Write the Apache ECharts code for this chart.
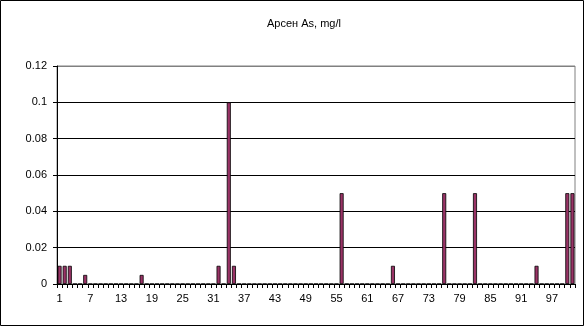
<!DOCTYPE html>
<html>
<head>
<meta charset="utf-8">
<script src="https://cdn.jsdelivr.net/npm/echarts@6/dist/echarts.min.js"></script>
<style>
  html, body { margin: 0; padding: 0; background: #fff; }
  #chart { width: 584px; height: 326px; }
</style>
</head>
<body>
<div id="chart"></div>
<script>
// sample numbers 1..101
const categories = [
  1, 2, 3, 4, 5, 6, 7, 8, 9, 10, 11, 12, 13, 14, 15, 16, 17, 18, 19, 20,
  21, 22, 23, 24, 25, 26, 27, 28, 29, 30, 31, 32, 33, 34, 35, 36, 37, 38, 39, 40,
  41, 42, 43, 44, 45, 46, 47, 48, 49, 50, 51, 52, 53, 54, 55, 56, 57, 58, 59, 60,
  61, 62, 63, 64, 65, 66, 67, 68, 69, 70, 71, 72, 73, 74, 75, 76, 77, 78, 79, 80,
  81, 82, 83, 84, 85, 86, 87, 88, 89, 90, 91, 92, 93, 94, 95, 96, 97, 98, 99, 100,
  101
]

// arsenic, mg/l
const arsenic = [
  0.01, 0.01, 0.01, 0, 0, 0.005, 0, 0, 0, 0, 0, 0, 0, 0, 0, 0, 0.005, 0, 0, 0,
  0, 0, 0, 0, 0, 0, 0, 0, 0, 0, 0, 0.01, 0, 0.1, 0.01, 0, 0, 0, 0, 0,
  0, 0, 0, 0, 0, 0, 0, 0, 0, 0, 0, 0, 0, 0, 0, 0.05, 0, 0, 0, 0,
  0, 0, 0, 0, 0, 0.01, 0, 0, 0, 0, 0, 0, 0, 0, 0, 0.05, 0, 0, 0, 0,
  0, 0.05, 0, 0, 0, 0, 0, 0, 0, 0, 0, 0, 0, 0.01, 0, 0, 0, 0, 0, 0.05,
  0.05
]

const chart = echarts.init(document.getElementById('chart'))

const option = {
  animation: false,
  textStyle: { fontFamily: 'Liberation Sans, Arial, sans-serif' },
  title: {
    text: 'Арсен As, mg/l',
    left: 262,
    top: 13,
    textStyle: { fontSize: 11, fontWeight: 'normal', color: '#000' }
  },
  graphic: [{
    type: 'rect',
    shape: { x: 0.5, y: 0.5, width: 583, height: 325 },
    style: { fill: 'none', stroke: '#000', lineWidth: 1 },
    silent: true
  }],
  grid: {
    left: 57,
    right: 9,
    top: 66,
    bottom: 42,
    show: true,
    borderColor: '#808080',
    borderWidth: 1
  },
  xAxis: {
    type: 'category',
    data: categories,
    boundaryGap: true,
    axisLine: { lineStyle: { color: '#000', width: 1 } },
    axisTick: { show: true, interval: 0, length: 4, lineStyle: { color: '#000' } },
    axisLabel: { interval: 5, margin: 9, fontSize: 11, color: '#000' }
  },
  yAxis: {
    type: 'value',
    min: 0,
    max: 0.12,
    interval: 0.02,
    axisLine: { show: true, lineStyle: { color: '#000' } },
    axisTick: { show: true, length: 4, lineStyle: { color: '#000' } },
    axisLabel: {
      margin: 10,
      fontSize: 11,
      color: '#000',
      formatter: v => String(parseFloat(v.toFixed(2)))
    },
    splitLine: {
      show: true,
      lineStyle: {
        color: ['#000', '#000', '#000', '#000', '#000', '#000', '#808080'],
        width: 1
      }
    }
  },
  series: [{
    type: 'bar',
    name: 'As',
    data: arsenic,
    barWidth: 4,
    itemStyle: {
      color: '#993366',
      borderColor: '#000',
      borderWidth: 0.8
    }
  }]
}

chart.setOption(option)
</script>
</body>
</html>
